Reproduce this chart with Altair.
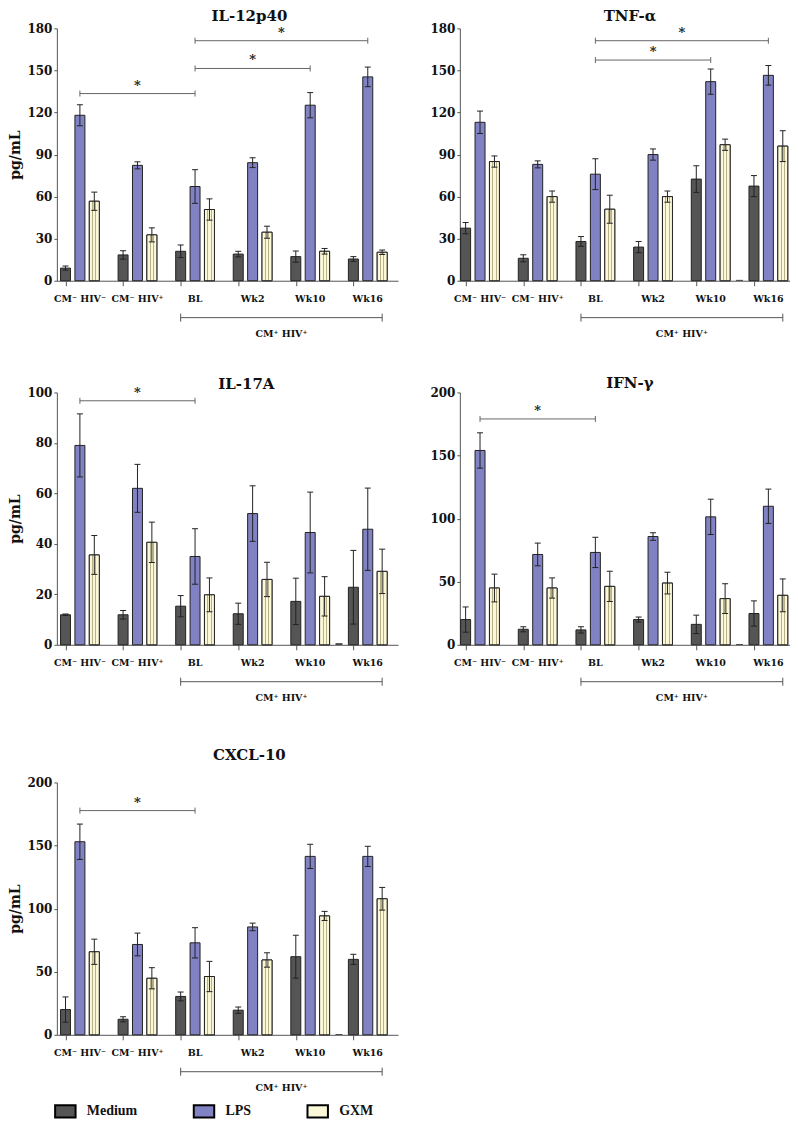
import altair as alt
import pandas as pd

# ---------------- data ----------------
groups = ["CM⁻ HIV⁻", "CM⁻ HIV⁺", "BL", "Wk2", "Wk10", "Wk16"]
stimuli = ["Medium", "LPS", "GXM"]
cohort_label = "CM⁺ HIV⁺"

il12_medium = [9, 18.4, 21, 19, 17.2, 15.5]
il12_medium_err = [1.5, 3, 4.5, 2, 4, 1.7]
il12_lps = [118, 82.3, 67.2, 84.2, 125.2, 145.4]
il12_lps_err = [7.5, 2.5, 12, 3.5, 9, 7]
il12_gxm = [56.7, 32.7, 50.8, 34.6, 21, 20.3]
il12_gxm_err = [6.5, 5, 7.6, 4.3, 2, 1.6]
il12_sig = [(0, 2, 133.5), (2, 4, 151.4), (2, 5, 171.2)]

tnf_medium = [37.5, 16, 28, 24, 72.5, 67.5]
tnf_medium_err = [4, 2.5, 3.5, 4, 9.5, 7.5]
tnf_lps = [113, 83, 76, 90, 142, 146.5]
tnf_lps_err = [8, 2.5, 11, 4, 9, 7]
tnf_gxm = [85, 60, 51, 60, 97, 96]
tnf_gxm_err = [4, 4, 10, 4, 4, 11]
tnf_sig = [(2, 4, 157.4), (2, 5, 171.2)]

il17_medium = [11.9, 11.9, 15.3, 12.3, 17.2, 22.8]
il17_medium_err = [0.3, 1.7, 4.2, 4.2, 9.2, 14.6]
il17_lps = [79, 62, 35, 52, 44.5, 45.8]
il17_lps_err = [12.5, 9.5, 11, 11, 16, 16.3]
il17_gxm = [35.6, 40.6, 19.8, 25.9, 19.2, 29.1]
il17_gxm_err = [7.7, 8, 6.7, 6.8, 7.8, 8.8]
il17_sig = [(0, 2, 96.7)]

ifn_medium = [20, 12.3, 11.8, 20, 16.2, 24.8]
ifn_medium_err = [10, 2, 2.5, 2, 7.3, 10]
ifn_lps = [154, 71.6, 73.2, 85.8, 101.4, 109.8]
ifn_lps_err = [14, 9, 12, 3, 14, 13.6]
ifn_gxm = [45, 45, 46.3, 48.9, 36.6, 39.2]
ifn_gxm_err = [11, 8, 12, 8.6, 11.8, 13]
ifn_sig = [(0, 2, 179)]

cxcl_medium = [20, 12.3, 30.4, 19.5, 61.9, 59.8]
cxcl_medium_err = [10, 2, 3.5, 2.5, 17, 4]
cxcl_lps = [153, 71.6, 72.9, 85.5, 141.4, 141.4]
cxcl_lps_err = [14, 9, 12, 3, 9.6, 8]
cxcl_gxm = [65.8, 44.8, 46.2, 59.3, 94.2, 107.8]
cxcl_gxm_err = [10, 8.4, 12, 5.7, 3.6, 9]
cxcl_sig = [(0, 2, 177.7)]

# --------------- style ----------------
FONT = "DejaVu Serif"
LEGEND_FONT = "Liberation Serif"
colors = ["#555555", "#8182c4", "#fbf8d8"]
H = 253


def panel(title, means, errs, ymax, ystep, sig, ytitle, width, xmin, xmax,
          title_offset, title_dx, zero_marker):
    rows = []
    for si, s in enumerate(stimuli):
        for gi, g in enumerate(groups):
            m, e = means[si][gi], errs[si][gi]
            rows.append(dict(stim=s, group=g, slot=4 * gi + si,
                             value=m, lo=m - e, hi=m + e))
    df = pd.DataFrame(rows)
    xscale = alt.Scale(domain=[xmin, xmax], nice=False, zero=False, padding=0)
    yscale = alt.Scale(domain=[0, ymax], nice=False)
    yaxis_kw = dict(values=list(range(0, ymax + 1, ystep)), grid=False,
                    tickSize=3, labelPadding=2)
    if ytitle:
        yaxis = alt.Axis(title="pg/mL", titlePadding=4, **yaxis_kw)
    else:
        yaxis = alt.Axis(title="", **yaxis_kw)
    x = alt.X("slot:Q", scale=xscale, title="",
              axis=alt.Axis(values=list(range(24)), labels=False, grid=False,
                            tickSize=5))
    base = alt.Chart(df)
    bars = base.mark_bar(size=10, stroke="#222222", strokeWidth=1).encode(
        x=x,
        y=alt.Y("value:Q", scale=yscale, axis=yaxis),
        color=alt.Color(
            "stim:N",
            scale=alt.Scale(domain=stimuli, range=colors),
            legend=alt.Legend(
                title=None, orient="none", direction="horizontal",
                legendX=-3, legendY=1074,
                symbolType="M-1,-0.6H1V0.6H-1Z", symbolSize=420,
                symbolStrokeColor="black", symbolStrokeWidth=2,
                labelFont=LEGEND_FONT, labelFontWeight="bold",
                labelFontSize=14, labelColor="#111111",
                labelOffset=10, columnPadding=52,
            ),
        ),
    )
    stripes = base.transform_filter(alt.datum.stim == "GXM").mark_bar(
        size=10, stroke="#222222", strokeWidth=1,
        fill=alt.Gradient(
            gradient="linear", x1=0, y1=0, x2=1, y2=0,
            stops=[
                alt.GradientStop(offset=0, color="#fbf8d8"),
                alt.GradientStop(offset=0.3, color="#fbf8d8"),
                alt.GradientStop(offset=0.3, color="#b8b088"),
                alt.GradientStop(offset=0.4, color="#b8b088"),
                alt.GradientStop(offset=0.4, color="#fbf8d8"),
                alt.GradientStop(offset=0.62, color="#fbf8d8"),
                alt.GradientStop(offset=0.62, color="#b8b088"),
                alt.GradientStop(offset=0.72, color="#b8b088"),
                alt.GradientStop(offset=0.72, color="#fbf8d8"),
                alt.GradientStop(offset=1, color="#fbf8d8"),
            ],
        ),
    ).encode(x="slot:Q", y=alt.Y("value:Q", scale=yscale))

    err = base.mark_rule(color="#222222", strokeWidth=1).encode(
        x="slot:Q", y=alt.Y("lo:Q", scale=yscale), y2="hi:Q")
    cap_hi = base.mark_rule(color="#222222", strokeWidth=1, xOffset=-3,
                            x2Offset=3).encode(
        x="slot:Q", x2="slot:Q", y=alt.Y("hi:Q", scale=yscale))
    cap_lo = base.mark_rule(color="#222222", strokeWidth=1, xOffset=-3,
                            x2Offset=3).encode(
        x="slot:Q", x2="slot:Q", y=alt.Y("lo:Q", scale=yscale))

    layers = [bars, stripes, err, cap_hi, cap_lo]

    if zero_marker:
        zdf = pd.DataFrame({"slot": [19], "value": [0.6]})
        layers.append(alt.Chart(zdf).mark_bar(size=7, color="#222222").encode(
            x="slot:Q", y=alt.Y("value:Q", scale=yscale)))

    sdf = pd.DataFrame([
        dict(xa=4 * a + 1, xb=4 * b + 1, xm=(4 * a + 1 + 4 * b + 1) / 2, y=yv)
        for a, b, yv in sig])
    sbase = alt.Chart(sdf)
    layers += [
        sbase.mark_rule(color="#666666", strokeWidth=1).encode(
            x="xa:Q", x2="xb:Q", y=alt.Y("y:Q", scale=yscale)),
        sbase.mark_rule(color="#666666", strokeWidth=1, yOffset=-3,
                        y2Offset=3).encode(
            x="xa:Q", y=alt.Y("y:Q", scale=yscale), y2="y:Q"),
        sbase.mark_rule(color="#666666", strokeWidth=1, yOffset=-3,
                        y2Offset=3).encode(
            x="xb:Q", y=alt.Y("y:Q", scale=yscale), y2="y:Q"),
        sbase.mark_text(text="*", font=FONT, fontSize=13, fontWeight="bold",
                        dy=-8, color="#222222").encode(
            x="xm:Q", y=alt.Y("y:Q", scale=yscale)),
    ]

    gdf = pd.DataFrame({"group": groups,
                        "slot": [4 * i + 1 for i in range(len(groups))]})
    layers.append(alt.Chart(gdf).mark_text(
        font=FONT, fontSize=9.5, fontWeight="bold", baseline="middle",
        color="#111111").encode(
        x="slot:Q", y=alt.value(H + 18), text="group:N"))

    cdf = pd.DataFrame({"x0": [8], "x1": [22], "xm": [15], "label": [cohort_label]})
    cbase = alt.Chart(cdf)
    layers += [
        cbase.mark_rule(color="#555555", strokeWidth=1).encode(
            x="x0:Q", x2="x1:Q", y=alt.value(H + 37)),
        cbase.mark_rule(color="#555555", strokeWidth=1).encode(
            x="x0:Q", y=alt.value(H + 33), y2=alt.value(H + 41)),
        cbase.mark_rule(color="#555555", strokeWidth=1).encode(
            x="x1:Q", y=alt.value(H + 33), y2=alt.value(H + 41)),
        cbase.mark_text(font=FONT, fontSize=9.5, fontWeight="bold",
                        baseline="middle", color="#111111").encode(
            x="xm:Q", y=alt.value(H + 53), text="label:N"),
    ]

    return alt.layer(*layers).properties(
        width=width, height=H,
        title=alt.TitleParams(title, offset=title_offset, dx=title_dx),
    )


p1 = panel("IL-12p40", [il12_medium, il12_lps, il12_gxm],
           [il12_medium_err, il12_lps_err, il12_gxm_err], 180, 30, il12_sig,
           True, 342, -0.6, 23.1, -2, 22, False)
p2 = panel("TNF-α", [tnf_medium, tnf_lps, tnf_gxm],
           [tnf_medium_err, tnf_lps_err, tnf_gxm_err], 180, 30, tnf_sig,
           False, 331, -0.4, 22.5, -2, 5, True)
p3 = panel("IL-17A", [il17_medium, il17_lps, il17_gxm],
           [il17_medium_err, il17_lps_err, il17_gxm_err], 100, 20, il17_sig,
           True, 342, -0.6, 23.1, -6, 19, True)
p4 = panel("IFN-γ", [ifn_medium, ifn_lps, ifn_gxm],
           [ifn_medium_err, ifn_lps_err, ifn_gxm_err], 200, 50, ifn_sig,
           False, 331, -0.4, 22.5, -5, 5, True)
p5 = panel("CXCL-10", [cxcl_medium, cxcl_lps, cxcl_gxm],
           [cxcl_medium_err, cxcl_lps_err, cxcl_gxm_err], 200, 50, cxcl_sig,
           True, 342, -0.6, 23.1, 14, 22, True)

top = alt.vconcat(
    alt.hconcat(p1, p2, spacing=31),
    alt.hconcat(p3, p4, spacing=31),
    spacing=38,
)

chart = alt.vconcat(top, p5, spacing=45).properties(
    padding=0
).configure_view(stroke=None).configure_axis(
    labelFont=FONT, labelFontWeight="bold", labelFontSize=12,
    labelColor="#111111", titleFont=FONT, titleFontWeight="bold",
    titleFontSize=14, titleColor="#111111", domainColor="#555555",
    tickColor="#555555",
).configure_title(
    font=FONT, fontWeight="bold", fontSize=15, color="#111111",
    anchor="middle", frame="group",
)

chart.save("out.html", embed_options={"renderer": "svg", "actions": False})
